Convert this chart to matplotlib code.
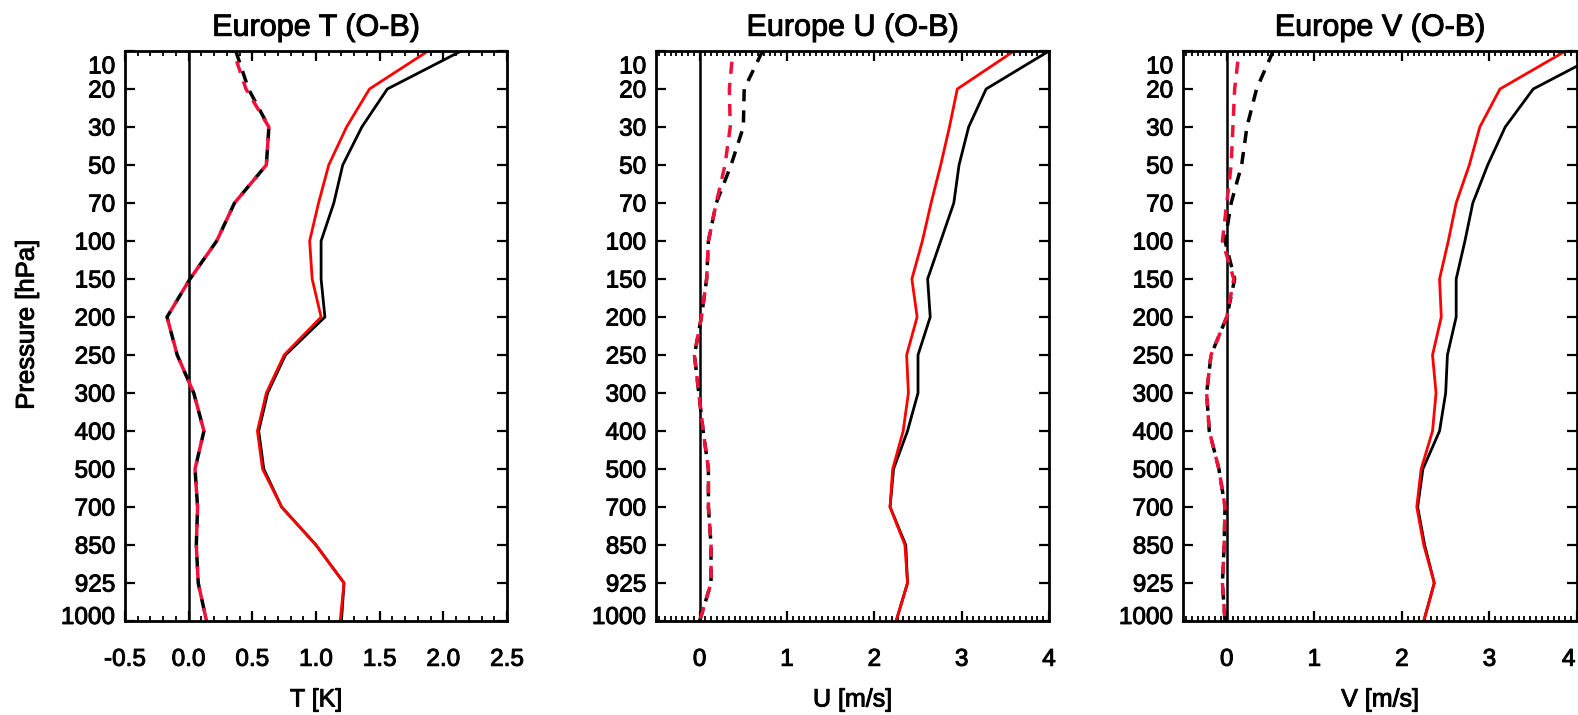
import matplotlib
matplotlib.use("Agg")
import matplotlib.pyplot as plt
import matplotlib.transforms as mtransforms
import matplotlib.patheffects as pe
from matplotlib.ticker import AutoMinorLocator

plt.rcParams['font.family'] = ['Liberation Sans', 'DejaVu Sans']

levels = [10, 20, 30, 50, 70, 100, 150, 200, 250, 300, 400, 500, 700, 850, 925, 1000]

# T (O-B): solid = std dev, dashed = mean
t_std_black = [2.14, 1.56, 1.36, 1.21, 1.14, 1.04, 1.04, 1.07, 0.76, 0.62, 0.55, 0.59, 0.73, 1.00, 1.22, 1.20]
t_std_red = [1.88, 1.42, 1.24, 1.10, 1.02, 0.95, 0.97, 1.04, 0.75, 0.61, 0.54, 0.58, 0.73, 1.00, 1.22, 1.19]
t_mean_black = [0.37, 0.47, 0.63, 0.61, 0.36, 0.22, 0.01, -0.17, -0.09, 0.04, 0.12, 0.05, 0.07, 0.06, 0.075, 0.14]
t_mean_red = [0.35, 0.45, 0.63, 0.61, 0.36, 0.22, 0.01, -0.17, -0.09, 0.04, 0.12, 0.05, 0.07, 0.06, 0.075, 0.14]

# U (O-B)
u_std_black = [4.00, 3.28, 3.08, 2.97, 2.91, 2.76, 2.61, 2.64, 2.50, 2.50, 2.38, 2.22, 2.18, 2.36, 2.38, 2.25]
u_std_red = [3.60, 2.95, 2.86, 2.76, 2.65, 2.55, 2.43, 2.49, 2.37, 2.39, 2.33, 2.21, 2.18, 2.35, 2.38, 2.25]
u_mean_black = [0.72, 0.51, 0.50, 0.36, 0.19, 0.10, 0.08, 0.02, -0.06, -0.01, 0.04, 0.10, 0.10, 0.13, 0.13, 0.0]
u_mean_red = [0.38, 0.34, 0.35, 0.29, 0.19, 0.10, 0.08, 0.02, -0.06, -0.01, 0.04, 0.10, 0.10, 0.13, 0.13, 0.0]

# V (O-B)
v_std_black = [4.33, 3.50, 3.18, 2.98, 2.81, 2.72, 2.62, 2.62, 2.52, 2.50, 2.43, 2.24, 2.18, 2.26, 2.37, 2.25]
v_std_red = [3.87, 3.12, 2.89, 2.77, 2.62, 2.53, 2.43, 2.45, 2.35, 2.39, 2.35, 2.22, 2.17, 2.25, 2.37, 2.25]
v_mean_black = [0.53, 0.34, 0.23, 0.17, 0.05, -0.02, 0.09, 0.0, -0.18, -0.23, -0.20, -0.09, -0.02, -0.03, -0.05, -0.02]
v_mean_red = [0.14, 0.09, 0.07, 0.05, 0.0, -0.05, 0.08, 0.0, -0.18, -0.23, -0.20, -0.09, -0.02, -0.03, -0.05, -0.02]

titles = ["Europe T (O-B)", "Europe U (O-B)", "Europe V (O-B)"]
xlabels = ["T [K]", "U [m/s]", "V [m/s]"]
t_xticks = [-0.5, 0.0, 0.5, 1.0, 1.5, 2.0, 2.5]
t_xticklabels = ["-0.5", "0.0", "0.5", "1.0", "1.5", "2.0", "2.5"]
uv_xticks = [0, 1, 2, 3, 4]
uv_xticklabels = ["0", "1", "2", "3", "4"]

fig = plt.figure(figsize=(15.78, 7.15), dpi=100)

W, H = 1578.0, 715.0
bottom = 1 - 621 / H
height = (621 - 51) / H
boxes = [(125, 507), (656, 1049), (1183, 1577)]

panels = [
    (t_std_black, t_std_red, t_mean_black, t_mean_red, (-0.5, 2.5), t_xticks, t_xticklabels, 5),
    (u_std_black, u_std_red, u_mean_black, u_mean_red, (-0.5, 4.0), uv_xticks, uv_xticklabels, 15),
    (v_std_black, v_std_red, v_mean_black, v_mean_red, (-0.5, 4.0), uv_xticks, uv_xticklabels, 15),
]

heavy = [pe.withStroke(linewidth=0.7, foreground='black')]

ypos = list(range(len(levels)))

for i, (box, p) in enumerate(zip(boxes, panels)):
    sb, sr, mb, mr, xlim, xt, xtl, nminor = p
    ax = fig.add_axes([box[0] / W, bottom, (box[1] - box[0]) / W, height])

    ax.axvline(0, color='black', lw=1.8, zorder=1)
    ax.plot(sb, ypos, color='black', lw=2.0)
    ax.plot(sr, ypos, color='red', lw=2.0)
    ax.plot(mb, ypos, color='black', lw=2.5, linestyle=(0, (3.5, 2.6)))
    ax.plot(mr, ypos, color='#f0103a', lw=2.5, linestyle=(3.0, (3.5, 2.6)))

    ax.set_xticks(xt)
    ax.set_xticklabels(xtl)
    ax.xaxis.set_minor_locator(AutoMinorLocator(nminor))
    ax.set_xlim(*xlim)
    ax.set_yticks(ypos)
    ax.set_yticklabels([str(l) for l in levels])
    ax.set_ylim(len(levels) - 1, 0)

    ax.tick_params(axis='x', which='major', direction='in', top=True, bottom=True,
                   length=7.5, width=1.6, labelsize=17.5, pad=20)
    ax.tick_params(axis='x', which='minor', direction='in', top=True, bottom=True,
                   length=3.8, width=1.3)
    ax.tick_params(axis='y', which='major', direction='in', left=True, right=True,
                   length=7.5, width=1.6, labelsize=17.5, pad=7)

    for s in ax.spines.values():
        s.set_linewidth(2.0)

    # shift end labels inward like the original plot
    ylabs = ax.get_yticklabels()
    ylabs[0].set_transform(ylabs[0].get_transform() +
                           mtransforms.ScaledTranslation(0, -10 / 72, fig.dpi_scale_trans))
    ylabs[-1].set_transform(ylabs[-1].get_transform() +
                            mtransforms.ScaledTranslation(0, 4 / 72, fig.dpi_scale_trans))
    if i == 2:
        # keep the last x label inside the figure
        xl = ax.get_xticklabels()
        xl[-1].set_transform(xl[-1].get_transform() +
                             mtransforms.ScaledTranslation(-6 / 72, 0, fig.dpi_scale_trans))

    ax.set_title(titles[i], fontsize=22, pad=11, path_effects=heavy)
    ax.set_xlabel(xlabels[i], fontsize=18, labelpad=12, path_effects=heavy)

    for lab in ax.get_xticklabels() + ax.get_yticklabels():
        lab.set_path_effects(heavy)

    if i == 0:
        ax.set_ylabel("Pressure [hPa]", fontsize=18.5, path_effects=heavy)
        ax.yaxis.set_label_coords(-0.226, 0.52)

fig.savefig("out.png", dpi=100)
